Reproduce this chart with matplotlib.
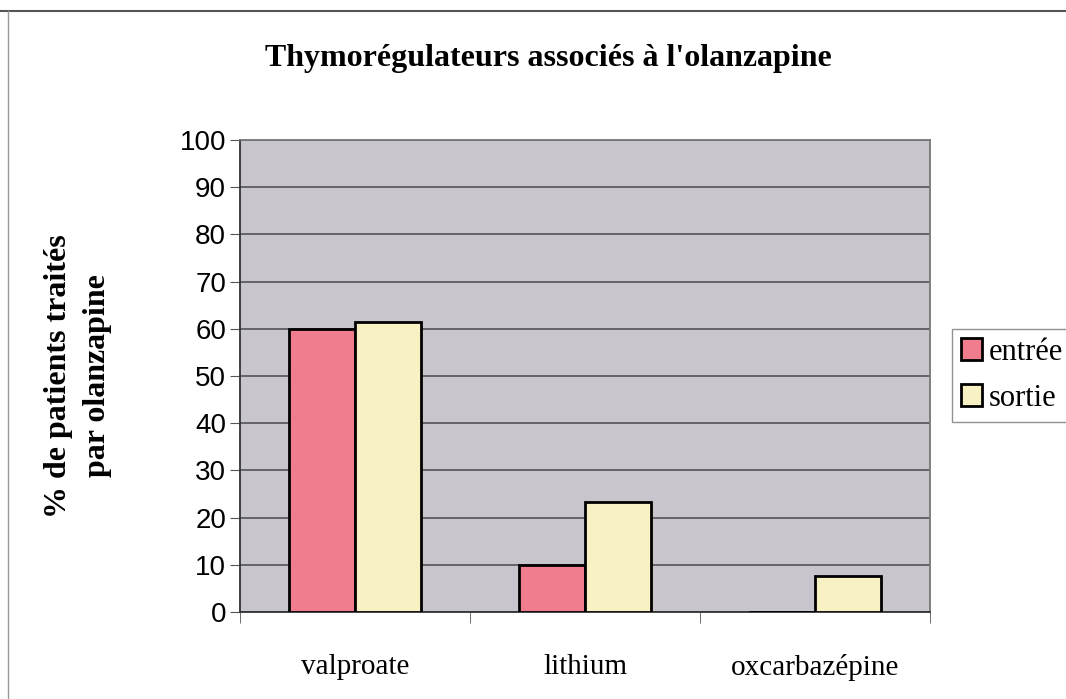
import matplotlib.pyplot as plt
import numpy as np
from matplotlib.lines import Line2D

# Data
categories = ["valproate", "lithium", "oxcarbazépine"]
entree = [60, 10, 0]
sortie = [61.5, 23.2, 7.7]
series_names = ["entrée", "sortie"]
yticks = list(range(0, 101, 10))

serif = ["Liberation Serif", "DejaVu Serif"]
sans = ["Liberation Sans", "DejaVu Sans"]

fig = plt.figure(figsize=(10.66, 6.99), dpi=100)
ax = fig.add_axes([0.2251, 0.1245, 0.6473, 0.6752])

x = np.arange(len(categories))
w = 0.287
ax.set_facecolor("#c9c5cd")
ax.bar(x - w / 2, entree, w, color="#ef7d8d", edgecolor="black", linewidth=2, label=series_names[0], zorder=3)
ax.bar(x + w / 2, sortie, w, color="#f8f1c4", edgecolor="black", linewidth=2, label=series_names[1], zorder=3)

ax.set_xlim(-0.5, 2.5)
ax.set_ylim(0, 100)
ax.set_yticks(yticks)
ax.set_yticklabels([str(t) for t in yticks], fontfamily=sans, fontsize=20)
ax.grid(axis="y", color="#4a4a4a", linewidth=1.1, zorder=1)

# category labels centred, tick marks between groups
ax.set_xticks(x)
ax.set_xticklabels(categories, fontfamily=serif, fontsize=21)
ax.tick_params(axis="x", length=0, pad=30)
ax.set_xticks([-0.5, 0.5, 1.5, 2.5], minor=True)
ax.tick_params(axis="x", which="minor", length=8, direction="out", color="#555555")
ax.tick_params(axis="y", length=7, direction="out", color="#555555", pad=3)

for side in ["left", "bottom"]:
    ax.spines[side].set_color("#333333")
    ax.spines[side].set_linewidth(1.3)
for side in ["top", "right"]:
    ax.spines[side].set_color("#777777")
    ax.spines[side].set_linewidth(1.3)

ax.set_ylabel("% de patients traités\npar olanzapine", fontfamily=serif, fontsize=23,
              fontweight="bold", labelpad=49, linespacing=1.45)

fig.text(0.514, 0.917, "Thymorégulateurs associés à l'olanzapine", ha="center", va="center",
         fontfamily=serif, fontsize=23, fontweight="bold")

leg = fig.legend(loc="upper left", bbox_to_anchor=(0.893, 0.53), prop={"family": serif, "size": 22},
                 handlelength=0.7, handleheight=0.7, handletextpad=0.2, labelspacing=0.55,
                 borderpad=0.3, borderaxespad=0, fancybox=False, frameon=True)
leg.get_frame().set_edgecolor("#777777")
leg.get_frame().set_linewidth(1.0)
for h in leg.legend_handles:
    h.set_linewidth(2)

# outer frame of the chart (top and left edges visible)
fig.add_artist(Line2D([0.0, 1.0], [0.984, 0.984], color="#555555", linewidth=1.5))
fig.add_artist(Line2D([0.0075, 0.0075], [0.0, 0.984], color="#999999", linewidth=1.0))

fig.savefig("out.png", dpi=100)
